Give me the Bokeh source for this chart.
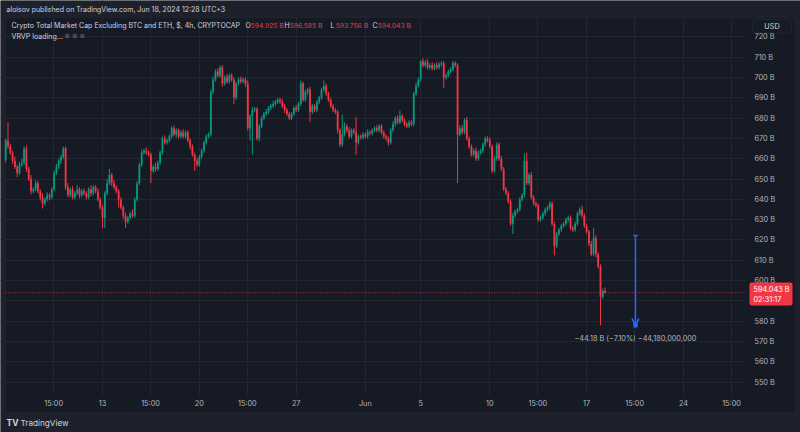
from bokeh.plotting import figure
from bokeh.models import (FixedTicker, BoxAnnotation, Label, Arrow,
                          OpenHead, TeeHead, ColumnDataSource)
from bokeh.embed import file_html
from bokeh.resources import INLINE

# ---------------- data ----------------
# 4h candles of CRYPTOCAP:TOTAL3 (billions USD); day index: 13 = May 13 (03:00 UTC+3)
start_day = 6.0
bar_days = 1 / 6
first_open = 659.5

closes = [
    669, 666, 663, 659, 656, 653, 657, 658, 665, 655,
    650, 644, 645, 648, 644, 641, 638, 640, 642, 641,
    645, 653, 656, 659, 661, 665, 646, 642, 645, 641,
    643, 645, 642, 644, 643, 641, 645, 643, 646, 644,
    640, 636, 631, 643, 648, 652, 648, 646, 644, 640,
    636, 632, 629, 631, 633, 632, 640, 648, 657, 663,
    664, 663, 662, 654, 656, 655, 658, 663, 670, 668,
    669, 671, 675, 672, 674, 671, 673, 671, 673, 669,
    666, 662, 659, 657, 661, 664, 668, 671, 672, 693,
    699, 703, 701, 705, 697, 700, 698, 701, 699, 690,
    697, 699, 698, 699, 697, 675, 681, 684, 684.5, 670,
    676, 680, 682, 683, 685, 686, 687, 688, 689,
    688, 686, 684, 682, 680, 682, 685, 684, 687, 697,
    689, 693, 694, 683, 686, 684, 688, 690, 694, 696,
    692, 689, 686, 684, 683, 674, 667, 672, 676, 674,
    671, 674, 673, 668, 671, 670.5, 672, 671, 673, 672.5,
    674, 675, 674, 676, 673, 671, 670, 668, 674, 677,
    680, 678, 681, 679, 677, 676, 678, 677, 692, 696,
    699, 708, 706, 707.5, 705, 706, 704.5, 706, 705, 706.5,
    707, 700, 701, 703, 704, 707, 706, 672, 675, 673,
    679, 670, 666, 662, 664, 660, 663, 664, 667, 670,
    669, 666, 654, 660, 667, 660, 655, 645, 643, 639,
    628, 632, 634, 635, 640, 642, 659, 648, 652, 641,
    638, 637, 630, 631, 633, 635, 636, 638, 628, 617,
    623, 625, 627, 628, 630, 631, 626, 625, 628,
    633, 635, 632, 627, 624, 618, 613, 621, 613, 607, 592, 594.925, 594.043,
]

upper_wick = [
    1, 9, 1.5, 1, 2, 1, 1.5, 2, 1, 1.5,
    1, 2, 1, 1.5, 1, 1, 2, 1, 1.5, 1,
    1, 1, 1.5, 1, 1, 1, 1, 2, 1, 1.5,
    1, 2, 1, 1, 1.5, 1, 1, 2, 1, 1,
    1.5, 1, 1, 1, 2, 3, 1, 1.5, 1, 1,
    1, 1, 1.5, 1, 1, 2, 1, 1, 1, 1.5,
    1, 1.5, 1, 1, 1, 2, 1, 1, 1, 1.5,
    1, 1, 1, 1.5, 1, 1, 1, 1.5, 1, 1,
    1, 1, 1, 1.5, 1, 1, 1, 1, 1, 1,
    1.5, 1, 1.5, 1, 1, 1, 1.5, 1, 1, 1,
    1, 1, 1.5, 1, 1, 1.5, 1, 1.5, 1, 1,
    1, 1, 1, 1.5, 1, 1, 1.5, 1, 1,
    1, 1.5, 1, 1, 1, 1, 1, 1.5, 1, 1.5,
    1, 1, 1, 1.5, 1, 1, 1, 1, 1, 2.5,
    1, 1, 1, 1, 1, 1, 1, 10, 2, 1,
    1.5, 1, 1, 7.5, 1, 1, 1, 1, 1.5, 1,
    1, 1, 1.5, 1, 1, 1, 1, 1, 1, 1.5,
    1, 1.5, 2.8, 1, 1, 1, 1, 1, 1, 1.5,
    1, 0.5, 1.5, 1, 1.5, 1, 1.5, 1, 1.5, 1,
    1, 1, 1, 1, 1, 1, 1, 1, 1.5, 1.5,
    1, 1.5, 1, 1, 1, 1.5, 1, 1, 1, 1,
    1, 1.5, 1, 1.5, 1, 1, 1.5, 1, 1, 1,
    1, 1.5, 1, 1, 1, 1, 3.6, 4, 1, 1.5,
    1, 1, 1, 1, 1, 1, 1, 1, 1, 1,
    1, 1, 1, 1, 1, 1, 1, 1, 1,
    1, 1, 2, 1, 1, 1, 1.5, 5, 1.5, 1, 1, 1.1, 1.66,
]

lower_wick = [
    1.5, 1, 1, 1.5, 1, 2, 1, 1, 1, 1.5,
    1, 1.5, 1, 1, 1, 1.5, 2.5, 1, 1, 1.5,
    1, 1, 1, 1, 1.5, 1, 1.5, 1, 1, 1,
    1, 1, 1.5, 1, 1, 1, 1, 1.5, 1, 1,
    1, 1, 5, 5, 1, 1, 1.5, 1, 1, 4,
    1, 1.5, 3, 1, 1, 1, 1, 1, 1, 1,
    1, 1, 1, 6, 1, 1.5, 1, 1, 1, 1,
    1, 1, 1, 1, 1.5, 1, 1, 1, 1, 1,
    1.5, 1, 5, 1, 1, 1, 1, 1, 1, 1,
    1, 1, 1, 1, 1.5, 1, 1, 1, 1, 3,
    1, 1, 1, 1, 1.5, 1, 6, 19, 1, 1,
    1.5, 1, 1, 1, 1, 1, 1, 1, 1,
    1, 1, 1.5, 1, 1, 1, 1, 1, 1, 1,
    1, 1, 1.5, 5, 1, 1, 1, 1, 1, 1,
    1, 1, 1, 1, 1, 1.5, 1.3, 1, 1, 1,
    1, 1, 1, 6, 1, 1, 1, 1, 1, 1,
    1, 1, 1, 1, 1, 1, 1, 1.5, 1, 1,
    1, 1, 1, 1, 1, 1, 1, 1, 1, 1,
    1, 1, 1, 1, 1, 1, 1, 1, 1, 1,
    1, 5, 1, 1, 1, 1, 1, 24, 1, 1,
    1, 1, 1, 1, 1, 1, 1, 1, 1, 1,
    1, 1, 1, 1, 1, 1, 1, 1, 1, 1,
    1, 5, 1, 1, 1, 1, 1, 1, 1, 1,
    1, 1, 1, 1, 1, 1, 1, 1, 1, 4.6,
    1, 1, 1, 1, 1, 1, 1, 1, 1,
    1, 1, 1, 1, 1, 1, 1, 1, 1.5, 1, 14, 1, 0.29,
]

price_ticks = [550, 560, 570, 580, 590, 600, 610, 620, 630, 640,
               650, 660, 670, 680, 690, 700, 710, 720]
time_ticks = [9.47, 13.0, 16.47, 20.0, 23.47, 27.0, 32.0, 36.0, 41.0,
              44.47, 48.0, 51.47, 55.0, 58.47]
time_labels = ["15:00", "13", "15:00", "20", "15:00", "27", "Jun", "5", "10",
               "15:00", "17", "15:00", "24", "15:00"]

last_ohlc = ["594.925 B", "596.585 B", "593.756 B", "594.043 B"]
last_price = 594.043
countdown = "02:31:17"

measure_day = 51.53
measure_from = 622.2
measure_to = 578.0
measure_text = "\u221244.18 B (\u22127.10%) \u221244,180,000,000"

title_text = "Crypto Total Market Cap Excluding BTC and ETH, $, 4h, CRYPTOCAP"
publish_text = "aloisov published on TradingView.com, Jun 18, 2024 12:28 UTC+3"

# ---------------- layout / styling ----------------
FONT = "Inter"
PANE = "#161A25"
OUTER = "#1E212B"
BORDER = "#2A2E39"
GRID = "#222633"
TXT = "#D1D4DC"
AXTXT = "#B2B5BE"
UP = "#089981"
DOWN = "#F23645"
BLUE = "#2962FF"

W, H = 800, 432
# chart area (screen px): x 5..745, y 17..395 ; price scale x 745..795 ; time scale y 395..412
X_RANGE = (5.626, 63.459)
Y_RANGE = (525.22, 737.92)
PANE_LEFT_DAY = 5.988
PRICE_SCALE_DAY = 59.483      # x = 745 px
TIME_SCALE_PRICE = 543.44     # y = 395 px


def sx(X):
    return X


def sy(Y):
    return H - Y


n = len(closes)
opens = [first_open] + closes[:-1]
days = [start_day + i * bar_days for i in range(n)]
highs = [max(o, c) + u for o, c, u in zip(opens, closes, upper_wick)]
lows = [min(o, c) - l for o, c, l in zip(opens, closes, lower_wick)]
colors = [UP if c >= o else DOWN for o, c in zip(opens, closes)]
body_bot = [min(o, c) for o, c in zip(opens, closes)]
body_top = [max(max(o, c), b + 0.45) for o, c, b in zip(opens, closes, body_bot)]

src = ColumnDataSource(dict(x=days, high=highs, low=lows, top=body_top,
                            bottom=body_bot, color=colors))

p = figure(width=W, height=H, x_range=X_RANGE, y_range=Y_RANGE,
           output_backend="svg", toolbar_location=None, y_axis_location="right",
           min_border=0, min_border_left=0, min_border_right=0,
           min_border_top=0, min_border_bottom=0,
           background_fill_color=PANE, border_fill_color=PANE,
           outline_line_color=None)


def box(X1, X2, Y1, Y2, fill, line=None, radius=0, level="underlay", fill_alpha=1.0):
    p.add_layout(BoxAnnotation(left=sx(X1), right=sx(X2), top=sy(Y1), bottom=sy(Y2),
                               left_units="screen", right_units="screen",
                               top_units="screen", bottom_units="screen",
                               fill_color=fill, fill_alpha=fill_alpha, line_color=line,
                               line_width=1, border_radius=radius, level=level))


def lab(X, Y, text, color=TXT, size=7.3, align="left", weight="normal",
        font=FONT, level="overlay"):
    p.add_layout(Label(x=sx(X), y=sy(Y), x_units="screen", y_units="screen",
                       text=text, text_color=color, text_font=font,
                       text_font_size=f"{size}px", text_align=align,
                       text_baseline="middle", text_font_style=weight,
                       level=level))


# axes drawn at fixed places (price scale on the right, time scale at the bottom)
p.xaxis.ticker = FixedTicker(ticks=time_ticks)
p.xaxis.major_label_overrides = {t: l for t, l in zip(time_ticks, time_labels)}
p.xaxis.fixed_location = TIME_SCALE_PRICE
p.yaxis.ticker = FixedTicker(ticks=price_ticks)
p.yaxis.major_label_overrides = {v: f"{v} B" for v in price_ticks}
p.yaxis.fixed_location = PRICE_SCALE_DAY
for ax in (p.xaxis[0], p.yaxis[0]):
    ax.axis_line_color = None
    ax.major_tick_line_color = None
    ax.minor_tick_line_color = None
    ax.major_tick_out = 0
    ax.major_tick_in = 0
    ax.major_label_text_color = AXTXT
    ax.major_label_text_font = FONT
    ax.major_label_text_font_size = "7.3px"
p.xaxis.major_label_standoff = 4
p.yaxis.major_label_standoff = 9
p.xgrid.grid_line_color = GRID
p.ygrid.grid_line_color = GRID

# keep grid lines inside the chart area: scale areas and outer frame painted over them
box(745, 795, 17, 412, PANE)
box(5, 745, 395, 412, PANE)
box(0, 800, 0, 17, OUTER)
box(0, 800, 412, 432, OUTER)
box(0, 5, 17, 412, OUTER)
box(795, 800, 17, 412, OUTER)
box(5, 795, 17, 412, None, BORDER, fill_alpha=0.0)

# candles
p.segment(x0="x", y0="low", x1="x", y1="high", line_color="color", line_width=1, source=src)
p.vbar(x="x", width=0.13, top="top", bottom="bottom", fill_color="color",
       line_color=None, source=src)

# last price line (dotted, across the chart area)
p.segment(x0=[PANE_LEFT_DAY], x1=[PRICE_SCALE_DAY], y0=[last_price], y1=[last_price],
          line_color=DOWN, line_dash="1 2", line_width=1, line_alpha=0.9)

# measure arrow
p.add_layout(Arrow(x_start=measure_day, y_start=measure_from, x_end=measure_day,
                   y_end=measure_to, line_color=BLUE, line_width=1.5,
                   start=TeeHead(size=5, line_color=BLUE, line_width=1.5),
                   end=OpenHead(size=7, line_color=BLUE, line_width=1.5)))
p.scatter(x=[measure_day], y=[measure_to], marker="square", size=3.5,
          fill_color=BLUE, line_color=BLUE)
lab(635, 338, measure_text, color=AXTXT, align="center")

# header / legend
lab(6, 9, publish_text, color=TXT, size=7.0)
lab(11, 25, title_text, color=TXT, size=7.0)
ohlc_letter_x = [245, 284, 330, 372]
for letter, lx, val in zip("OHLC", ohlc_letter_x, last_ohlc):
    lab(lx, 25, letter, color=TXT, size=6.9)
    lab(lx + 5.3, 25, val, color=DOWN, size=6.7)
lab(11, 35.5, "VRVP loading...", color=TXT, size=7.1)
lab(64, 35.5, "\u2298  \u2298  \u2298", color="#787B86", size=6.5, font="DejaVu Sans")

# USD box
box(752, 791, 19, 32.5, PANE, "#363A45", 3, level="overlay")
lab(771.5, 26, "USD", color=TXT, size=7.3, align="center")

# last price tag
box(749, 792, 282, 305, DOWN, None, 2, level="overlay")
lab(753, 288.5, last_ohlc[3], color="#FFFFFF", size=7.3)
lab(753, 298.5, countdown, color="#FFFFFF", size=7.3)

# footer
lab(6, 422, "TV", color=TXT, size=8.5, weight="bold")
lab(20, 422, "TradingView", color=TXT, size=8.2)

open("out.html", "w").write(file_html(p, INLINE))
